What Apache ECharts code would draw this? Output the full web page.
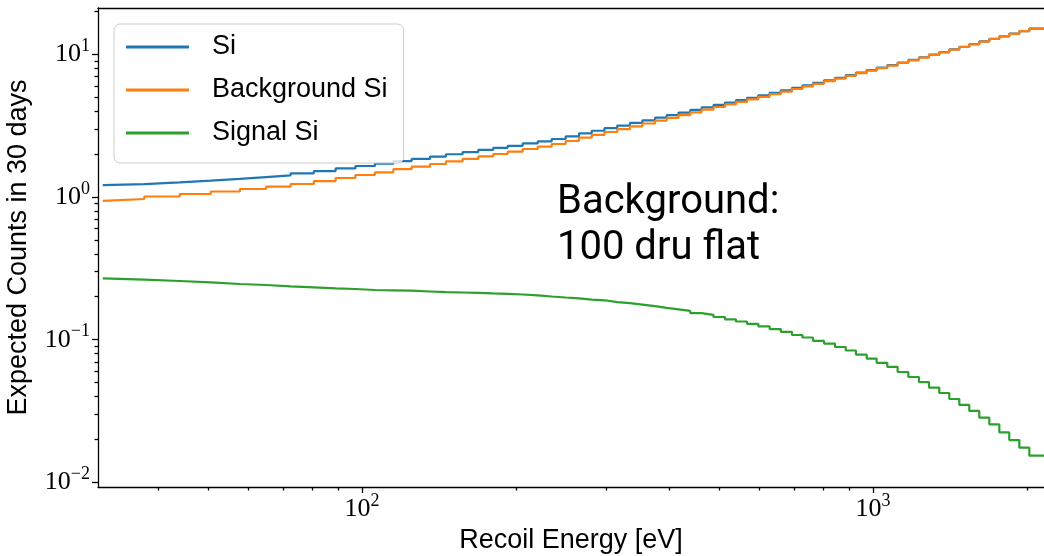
<!DOCTYPE html>
<html><head><meta charset="utf-8">
<script src="https://cdn.jsdelivr.net/npm/echarts@6/dist/echarts.min.js"></script>
<style>html,body{margin:0;padding:0;background:#fff}#c{width:1044px;height:556px}</style>
</head><body><div id="c"></div>
<script>
// Bin edges [eV] (histogram steps)
const edges = [31.1, 37.5, 44.0, 50.6, 57.7, 64.9, 72.5, 80.5, 88.8, 97.1, 106.0, 115.2, 125.1, 135.9, 146.0, 157.4, 168.9, 180.7, 192.8, 206.3, 220.8, 235.1, 250.4, 265.9, 281.6, 298.2, 315.9, 334.5, 353.8, 374.6, 394.8, 416.4, 438.9, 462.0, 487.5, 513.2, 539.3, 566.7, 596.4, 627.7, 660.1, 694.2, 727.8, 763.1, 802.0, 842.7, 884.5, 926.1, 972.0, 1016.7, 1066.6, 1117.6, 1172.6, 1230.3, 1287.1, 1348.1, 1410.4, 1475.5, 1543.3, 1614.5, 1689.0, 1767.0, 1847.9, 1933.6, 2022.8, 2115.8, 2215];
const siValues = [1.210, 1.232, 1.266, 1.302, 1.338, 1.379, 1.418, 1.466, 1.520, 1.586, 1.649, 1.712, 1.787, 1.848, 1.919, 1.993, 2.065, 2.140, 2.211, 2.285, 2.374, 2.453, 2.550, 2.664, 2.795, 2.913, 3.038, 3.167, 3.306, 3.446, 3.598, 3.753, 3.908, 4.076, 4.247, 4.417, 4.588, 4.774, 4.960, 5.162, 5.373, 5.593, 5.822, 6.062, 6.312, 6.574, 6.847, 7.143, 7.452, 7.750, 8.074, 8.399, 8.752, 9.133, 9.534, 9.934, 10.370, 10.826, 11.286, 11.784, 12.302, 12.827, 13.372, 13.943, 14.538, 15.158];
const backgroundValues = [0.9405, 0.9682, 1.0081, 1.0496, 1.0928, 1.1377, 1.1808, 1.2334, 1.2904, 1.3589, 1.4262, 1.4897, 1.5661, 1.6306, 1.7033, 1.7790, 1.8522, 1.9285, 2.0014, 2.0771, 2.1696, 2.2518, 2.3522, 2.4690, 2.6039, 2.7242, 2.8547, 2.9866, 3.1297, 3.2743, 3.4311, 3.5893, 3.7492, 3.9225, 4.0973, 4.2731, 4.4489, 4.6396, 4.8306, 5.0378, 5.2537, 5.4790, 5.7142, 5.9588, 6.2140, 6.4803, 6.7578, 7.0588, 7.3731, 7.6765, 8.0055, 8.3349, 8.6921, 9.0783, 9.4832, 9.8876, 10.328, 10.788, 11.251, 11.752, 12.274, 12.801, 13.350, 13.923, 14.520, 15.143];
const signalValues = [0.2694, 0.2634, 0.2578, 0.2525, 0.2456, 0.2417, 0.2367, 0.2329, 0.2292, 0.2266, 0.2230, 0.2219, 0.2205, 0.2177, 0.2152, 0.2142, 0.2128, 0.2111, 0.2098, 0.2074, 0.2047, 0.2008, 0.1976, 0.1948, 0.1910, 0.1889, 0.1835, 0.1805, 0.1762, 0.1717, 0.1673, 0.1633, 0.1592, 0.1536, 0.1492, 0.1442, 0.1390, 0.1341, 0.1292, 0.1241, 0.1188, 0.1136, 0.1079, 0.1036, 0.0982, 0.0940, 0.0889, 0.0840, 0.0787, 0.0738, 0.0689, 0.0644, 0.0594, 0.0548, 0.0505, 0.0462, 0.0423, 0.0384, 0.0349, 0.0317, 0.0284, 0.0255, 0.0224, 0.0198, 0.0175, 0.0154];
const seriesNames = ['Si', 'Background Si', 'Signal Si'];
const seriesColors = ['#1f77b4', '#ff7f0e', '#2ca02c'];

const xMajorTicks = [100, 1000];
const xMajorLabels = ['2', '3'];
const xMinorTicks = [40, 50, 60, 70, 80, 90, 200, 300, 400, 500, 600, 700, 800, 900, 2000];
const yMajorTicks = [0.01, 0.1, 1, 10];
const yMajorLabels = ['\u22122', '\u22121', '0', '1'];
const yMinorTicks = [0.02, 0.03, 0.04, 0.05, 0.06, 0.07, 0.08, 0.09, 0.2, 0.3, 0.4, 0.5, 0.6, 0.7, 0.8, 0.9, 2, 3, 4, 5, 6, 7, 8, 9, 20];
const xRange = [30.44, 2161];
const yRange = [0.009285, 21.11];
const xName = 'Recoil Energy [eV]';
const yName = 'Expected Counts in 30 days';
const annotationLines = ['Background:', '100 dru flat'];

function stepData(vals) {
  return edges.map((e, i) => [e, vals[Math.min(i, vals.length - 1)]]);
}
function powLabel(ticks, labels) {
  return function (v) {
    let k = 0, best = 1e9;
    ticks.forEach((t, i) => { const d = Math.abs(Math.log10(t) - Math.log10(v)); if (d < best) { best = d; k = i; } });
    return '{b|10}{s|' + labels[k] + '}';
  };
}
const rich = {
  b: { fontFamily: 'Liberation Serif', fontSize: 26, color: '#000', lineHeight: 34 },
  s: { fontFamily: 'Liberation Serif', fontSize: 18, color: '#000', lineHeight: 18, verticalAlign: 'top' }
};
const axisBlack = { color: '#000', width: 1.3 };
const sansFont = 'Liberation Sans';

const chart = echarts.init(document.getElementById('c'), null, { renderer: 'canvas' });
chart.setOption({
  animation: false,
  backgroundColor: '#fff',
  grid: { left: 98, right: 0, top: 8, bottom: 69, containLabel: false, outerBoundsMode: 'none' },
  xAxis: [
    { type: 'log', logBase: 10, min: xRange[0], max: xRange[1], position: 'bottom',
      axisLine: { show: true, lineStyle: axisBlack },
      axisTick: { show: true, customValues: xMajorTicks, length: 6, lineStyle: axisBlack },
      axisLabel: { show: true, customValues: xMajorTicks, formatter: powLabel(xMajorTicks, xMajorLabels), rich: rich, margin: 5 },
      splitLine: { show: false }, minorTick: { show: false },
      name: xName, nameLocation: 'middle', nameGap: 37,
      nameTextStyle: { fontFamily: sansFont, fontSize: 27, color: '#000' } },
    { type: 'log', logBase: 10, min: xRange[0], max: xRange[1], position: 'bottom',
      axisLine: { show: false },
      axisTick: { show: true, customValues: xMinorTicks, length: 3.5, lineStyle: axisBlack },
      axisLabel: { show: false }, splitLine: { show: false } },
    { type: 'log', logBase: 10, min: xRange[0], max: xRange[1], position: 'top',
      axisLine: { show: true, lineStyle: axisBlack },
      axisTick: { show: false }, axisLabel: { show: false }, splitLine: { show: false } }
  ],
  yAxis: [
    { type: 'log', logBase: 10, min: yRange[0], max: yRange[1], position: 'left',
      axisLine: { show: true, lineStyle: axisBlack },
      axisTick: { show: true, customValues: yMajorTicks, length: 6, lineStyle: axisBlack },
      axisLabel: { show: true, customValues: yMajorTicks, formatter: powLabel(yMajorTicks, yMajorLabels), rich: rich, margin: 8 },
      splitLine: { show: false },
      name: yName, nameLocation: 'middle', nameGap: 66,
      nameTextStyle: { fontFamily: sansFont, fontSize: 27, color: '#000' } },
    { type: 'log', logBase: 10, min: yRange[0], max: yRange[1], position: 'left',
      axisLine: { show: false },
      axisTick: { show: true, customValues: yMinorTicks, length: 3.5, lineStyle: axisBlack },
      axisLabel: { show: false }, splitLine: { show: false } }
  ],
  legend: {
    orient: 'vertical', left: 114, top: 24, data: seriesNames, icon: 'rect',
    itemWidth: 63, itemHeight: 3, itemGap: 13, padding: [8, 16, 15, 12],
    backgroundColor: 'rgba(255,255,255,0.8)', borderColor: '#cccccc', borderWidth: 1, borderRadius: 6,
    textStyle: { fontFamily: sansFont, fontSize: 27, color: '#000', lineHeight: 30, padding: [0, 0, 0, 18] }
  },
  graphic: [{
    type: 'text', left: 557, top: 180, z: 100,
    style: { text: annotationLines.join('\n'), fontFamily: 'Roboto', fontSize: 40, lineHeight: 46, fill: '#000' }
  }],
  series: [
    { name: seriesNames[0], type: 'line', step: 'start', xAxisIndex: 0, yAxisIndex: 0, data: stepData(siValues), showSymbol: false, symbol: 'none', lineStyle: { color: seriesColors[0], width: 2.2 }, itemStyle: { color: seriesColors[0] } },
    { name: seriesNames[1], type: 'line', step: 'start', xAxisIndex: 0, yAxisIndex: 0, data: stepData(backgroundValues), showSymbol: false, symbol: 'none', lineStyle: { color: seriesColors[1], width: 2.2 }, itemStyle: { color: seriesColors[1] } },
    { name: seriesNames[2], type: 'line', step: 'start', xAxisIndex: 0, yAxisIndex: 0, data: stepData(signalValues), showSymbol: false, symbol: 'none', lineStyle: { color: seriesColors[2], width: 2.2 }, itemStyle: { color: seriesColors[2] } }
  ]
});
</script>
</body></html>
